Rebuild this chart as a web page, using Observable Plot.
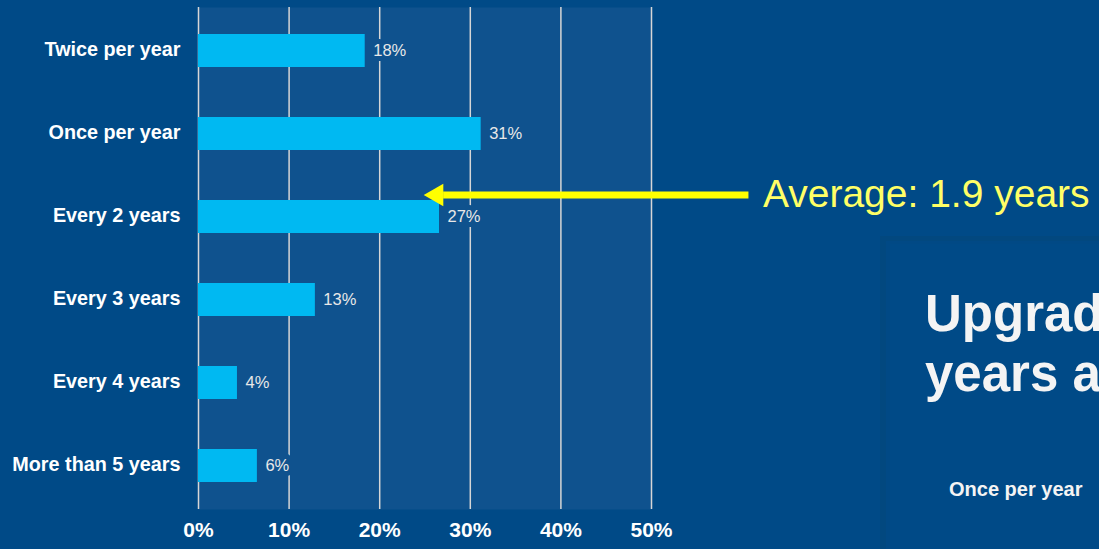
<!DOCTYPE html>
<html>
<head>
<meta charset="utf-8">
<script src="https://cdn.jsdelivr.net/npm/d3@7"></script>
<script src="https://cdn.jsdelivr.net/npm/@observablehq/plot@0.6"></script>
<style>
  html, body { margin: 0; padding: 0; background: #004a87; overflow: hidden; width: 1099px; height: 549px; }
  body { font-family: "Liberation Sans", Arial, sans-serif; position: relative; }
  #chart { position: absolute; left: 0; top: 0; z-index: 1; }
  #slide { position: absolute; left: 880px; top: 236px; width: 260px; height: 340px; background: #02487f; z-index: 2; }
  #slide .inner { position: absolute; left: 6px; top: 5px; right: 0; bottom: 0; background: #014985; }
  #slide .inner2 { position: absolute; left: 10px; top: 8px; right: 0; bottom: 0; background: #004a87; }
  #slide .title { position: absolute; left: 45px; top: 48px; color: #f4f4f4; font-weight: bold; font-size: 51px; line-height: 60px; white-space: nowrap; }
  #slide .cat { position: absolute; left: 69px; top: 242px; color: #f4f4f4; font-weight: bold; font-size: 20px; white-space: nowrap; }
</style>
</head>
<body>
<div id="chart"></div>
<div id="slide"><div class="inner"></div><div class="inner2"></div>
  <div class="title">Upgrad<br>years a</div>
  <div class="cat">Once per year</div>
</div>
<script>
const categories = ["Twice per year", "Once per year", "Every 2 years", "Every 3 years", "Every 4 years", "More than 5 years"];
const values = [18.4, 31.2, 26.6, 12.9, 4.3, 6.5];
const valueLabels = ["18%", "31%", "27%", "13%", "4%", "6%"];
const xTicks = [0, 10, 20, 30, 40, 50];
const xTickLabels = ["0%", "10%", "20%", "30%", "40%", "50%"];
const annotationText = ["Average: 1.9 years"];
const annotationCategory = ["Every 2 years"];
const arrowFrom = [60.7];
const arrowHeadAt = [26.3];
const arrowLineTo = [27.0];
const annotationTextX = [62.3];

const data = categories.map((c, i) => ({category: c, value: values[i], label: valueLabels[i]}));
const ticks = xTicks.map((t, i) => ({t, label: xTickLabels[i]}));
const ann = annotationText.map((t, i) => ({text: t, y: annotationCategory[i], x1: arrowFrom[i], x2: arrowLineTo[i], head: arrowHeadAt[i], tx: annotationTextX[i]}));

const plotBg = "#0f528e";
const font = "'Liberation Sans', Arial, sans-serif";

const chart = Plot.plot({
  width: 1099,
  height: 549,
  marginLeft: 198,
  marginRight: 448,
  marginTop: 7,
  marginBottom: 40,
  style: {background: "transparent", fontFamily: font, overflow: "visible"},
  x: {domain: [0, 50], axis: null},
  y: {domain: categories, paddingInner: 0.6, paddingOuter: 0.3, axis: null},
  marks: [
    Plot.frame({fill: plotBg, stroke: "none"}),
    Plot.ruleX(xTicks, {x: d => d, stroke: "#d6d6d6", strokeWidth: 1.5}),
    Plot.barX(data, {x: "value", y: "category", fill: "#00b9f2"}),
    Plot.text(data, {x: "value", y: "category", text: "label", dx: 8, textAnchor: "start", fill: "#e8e8e8", stroke: plotBg, strokeWidth: 10, fontSize: 16.5}),
    Plot.text(categories, {x: 0, y: d => d, text: d => d, dx: -18, dy: -1, textAnchor: "end", fill: "#ffffff", fontWeight: "bold", fontSize: 19.8}),
    Plot.text(ticks, {x: "t", text: "label", frameAnchor: "bottom", dy: 27, fill: "#ffffff", fontWeight: "bold", fontSize: 21}),
    Plot.link(ann, {x1: "x1", x2: "x2", y1: "y", y2: "y", dy: -22, stroke: "#ffff00", strokeWidth: 7}),
    Plot.dot(ann, {x: "head", y: "y", dy: -22, symbol: "triangle", rotate: -90, r: 8.4, fill: "#ffff00", stroke: "none"}),
    Plot.text(ann, {x: "tx", y: "y", dy: -22, text: "text", textAnchor: "start", fill: "#ffff66", fontSize: 39})
  ]
});
document.getElementById("chart").appendChild(chart);
</script>
</body>
</html>
